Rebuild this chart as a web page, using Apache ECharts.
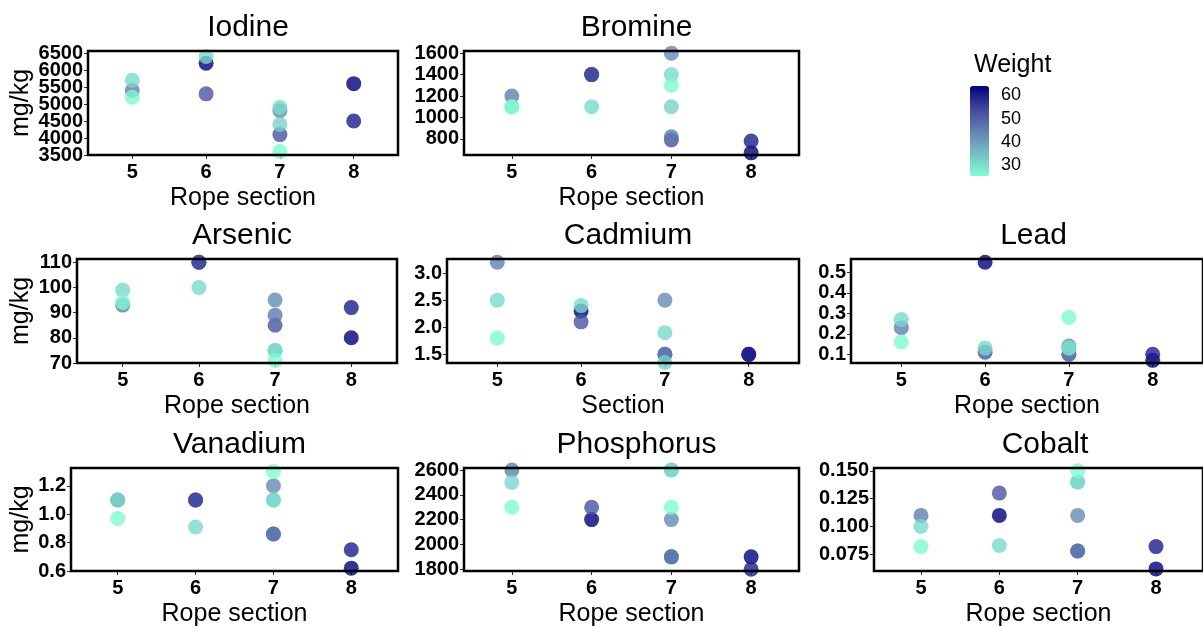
<!DOCTYPE html>
<html lang="en">
<head>
    <meta charset="UTF-8">
    <title>Elements by rope section</title>
    <script src="https://cdn.jsdelivr.net/npm/echarts@6/dist/echarts.min.js"></script>
    <style>
        body { margin: 0; background: #fff; }
    </style>
</head>
<body>
<div id="main" style="width: 1203px;height:628px;"></div>
<script type="text/javascript">
    // one entry per sample: rope section and weight
    var section = [5, 5, 5, 6, 6, 6, 7, 7, 7, 7, 7, 7, 8, 8];
    var weight = [26, 31, 45, 31, 52, 64, 26, 31, 32, 43, 46, 52, 60, 64];

    // mg/kg per sample (null = not visible in the plot)
    var iodine = [5200, 5700, 5400, 6400, 5300, 6200, 3600, 4900, 4400, 4800, null, 4100, 4500, 5600];
    var bromine = [1100, 1100, 1200, 1100, 1400, 1400, 1300, 1400, 1100, 1600, 820, 790, 780, 670];
    var arsenic = [94, 99, 93, 100, 110, 110, 71, 75, 75, 95, 89, 85, 92, 80];
    var cadmium = [1.8, 2.5, 3.2, 2.4, 2.1, 2.3, null, 1.9, 1.35, 2.5, 1.5, 1.5, 1.5, 1.5];
    var lead = [0.16, 0.27, 0.23, 0.13, 0.11, 0.55, 0.28, 0.13, 0.13, 0.14, 0.10, 0.10, 0.10, 0.07];
    var vanadium = [0.97, 1.1, 1.1, 0.91, 1.1, 1.1, 1.3, 1.1, 1.1, 1.2, 0.86, 0.86, 0.75, 0.62];
    var phosphorus = [2300, 2500, 2600, null, 2300, 2200, 2300, 2600, 2600, 2200, 1900, 1900, 1800, 1900];
    var cobalt = [0.082, 0.10, 0.11, 0.083, 0.13, 0.11, 0.15, 0.14, 0.14, 0.11, 0.078, 0.078, 0.082, 0.062];

    // tick labels
    var sectionTicks = [5, 6, 7, 8];
    var iodineTicks = [3500, 4000, 4500, 5000, 5500, 6000, 6500];
    var bromineTicks = [800, 1000, 1200, 1400, 1600];
    var arsenicTicks = [70, 80, 90, 100, 110];
    var cadmiumTicks = [1.5, 2.0, 2.5, 3.0];
    var leadTicks = [0.1, 0.2, 0.3, 0.4, 0.5];
    var vanadiumTicks = [0.6, 0.8, 1.0, 1.2];
    var phosphorusTicks = [1800, 2000, 2200, 2400, 2600];
    var cobaltTicks = [0.075, 0.100, 0.125, 0.150];
    var weightTicks = [30, 40, 50, 60];

    var FONT = '"Liberation Sans", Arial, sans-serif';

    // panel layout: box position in px, y range, label decimals
    var panels = [
        {name: 'Iodine', values: iodine, ticks: iodineTicks, dec: 0, ymin: 3500, ymax: 6560, left: 88, top: 51, width: 310, xname: 'Rope section', yname: 'mg/kg', gap: 54},
        {name: 'Bromine', values: bromine, ticks: bromineTicks, dec: 0, ymin: 650, ymax: 1620, left: 464, top: 51, width: 335, xname: 'Rope section'},
        {name: 'Arsenic', values: arsenic, ticks: arsenicTicks, dec: 0, ymin: 70, ymax: 111.3, left: 77, top: 259, width: 320, xname: 'Rope section', yname: 'mg/kg', gap: 43},
        {name: 'Cadmium', values: cadmium, ticks: cadmiumTicks, dec: 1, ymin: 1.34, ymax: 3.26, left: 447, top: 259, width: 352, xname: 'Section'},
        {name: 'Lead', values: lead, ticks: leadTicks, dec: 1, ymin: 0.057, ymax: 0.566, left: 851, top: 259, width: 355, xname: 'Rope section'},
        {name: 'Vanadium', values: vanadium, ticks: vanadiumTicks, dec: 1, ymin: 0.6, ymax: 1.325, left: 71, top: 468, width: 327, xname: 'Rope section', yname: 'mg/kg', gap: 37},
        {name: 'Phosphorus', values: phosphorus, ticks: phosphorusTicks, dec: 0, ymin: 1786, ymax: 2616, left: 464, top: 468, width: 335, xname: 'Rope section'},
        {name: 'Cobalt', values: cobalt, ticks: cobaltTicks, dec: 3, ymin: 0.0601, ymax: 0.1525, left: 874, top: 468, width: 332, xname: 'Rope section'}
    ];
    var boxHeight = 104;

    var myChart = echarts.init(document.getElementById('main'));

    var titles = [], grids = [], xAxes = [], yAxes = [], series = [];

    // y axis for one panel; labels are split over two overlaid axes
    // so that tightly packed labels are not dropped
    function makeYAxis(p, i, ticks, withName) {
        return {
            gridIndex: i, type: 'value', min: p.ymin, max: p.ymax, position: 'left',
            name: withName ? (p.yname || '') : '', nameLocation: 'middle', nameGap: p.gap || 0,
            nameTextStyle: {fontFamily: FONT, fontSize: 25, color: '#000'},
            axisLine: {show: false, onZero: false},
            axisTick: {show: true, length: 4, customValues: ticks, lineStyle: {color: '#333'}},
            axisLabel: {
                customValues: ticks, margin: 5,
                showMinLabel: true, showMaxLabel: true,
                fontFamily: FONT, fontSize: 20, fontWeight: 'bold', color: '#000',
                formatter: function (v) { return v.toFixed(p.dec); }
            },
            splitLine: {show: false}
        };
    }

    panels.forEach(function (p, i) {
        // points sorted so that heavier samples sit underneath
        var pts = [];
        for (var k = 0; k < section.length; k++) {
            if (p.values[k] != null) pts.push([section[k], p.values[k], weight[k]]);
        }
        pts.sort(function (a, b) { return b[2] - a[2]; });

        titles.push({
            text: p.name,
            left: p.left + p.width / 2,
            top: p.top - 43,
            textAlign: 'center',
            textStyle: {fontFamily: FONT, fontSize: 30, fontWeight: 'normal', color: '#000'}
        });
        grids.push({
            left: p.left, top: p.top, width: p.width, height: boxHeight,
            show: true, borderColor: '#000', borderWidth: 2.5, backgroundColor: 'transparent', z: 3
        });
        xAxes.push({
            gridIndex: i, type: 'value', min: 4.4, max: 8.6,
            name: p.xname, nameLocation: 'middle', nameGap: 31,
            nameTextStyle: {fontFamily: FONT, fontSize: 25, color: '#000'},
            axisLine: {show: false, onZero: false},
            axisTick: {show: true, length: 4, customValues: sectionTicks, lineStyle: {color: '#333'}},
            axisLabel: {customValues: sectionTicks, margin: 7, fontFamily: FONT, fontSize: 20, fontWeight: 'bold', color: '#000'},
            splitLine: {show: false}
        });
        var evenTicks = p.ticks.filter(function (t, j) { return j % 2 === 0; });
        var oddTicks = p.ticks.filter(function (t, j) { return j % 2 === 1; });
        yAxes.push(makeYAxis(p, i, evenTicks, true));
        yAxes.push(makeYAxis(p, i, oddTicks, false));
        series.push({
            name: p.name, type: 'scatter',
            xAxisIndex: i, yAxisIndex: 2 * i,
            symbolSize: 15, clip: true,
            data: pts
        });
    });

    // legend title
    titles.push({
        text: 'Weight', left: 969, top: 48,
        textStyle: {fontFamily: FONT, fontSize: 25, fontWeight: 'normal', color: '#000'}
    });

    // hidden grid next to the colour bar, only for its tick labels
    var cbIndex = panels.length;
    grids.push({left: 970, top: 86, width: 19, height: 90, show: false});
    xAxes.push({gridIndex: cbIndex, type: 'value', show: false});
    yAxes.push({
        gridIndex: cbIndex, type: 'value', min: 25.3, max: 64, position: 'right',
        axisLine: {show: false},
        axisTick: {show: true, inside: true, length: 4, customValues: weightTicks, lineStyle: {color: '#fff'}},
        axisLabel: {customValues: weightTicks, margin: 12, fontFamily: FONT, fontSize: 18, color: '#000'},
        splitLine: {show: false}
    });
    yAxes.push({
        gridIndex: cbIndex, type: 'value', min: 25.3, max: 64, position: 'left',
        axisLine: {show: false},
        axisTick: {show: true, inside: true, length: 4, customValues: weightTicks, lineStyle: {color: '#fff'}},
        axisLabel: {show: false},
        splitLine: {show: false}
    });

    option = {
        animation: false,
        title: titles,
        grid: grids,
        xAxis: xAxes,
        yAxis: yAxes,
        visualMap: {
            type: 'continuous',
            min: 25.3, max: 64,
            dimension: 2,
            seriesIndex: panels.map(function (p, i) { return i; }),
            calculable: false,
            text: null,
            left: 970, top: 86,
            itemWidth: 19, itemHeight: 90,
            padding: 0,
            inRange: {color: ['#7FFFD4', '#75BEC4', '#6181B2', '#43469F', '#000080']}
        },
        series: series
    };

    myChart.setOption(option);
</script>
</body>
</html>
